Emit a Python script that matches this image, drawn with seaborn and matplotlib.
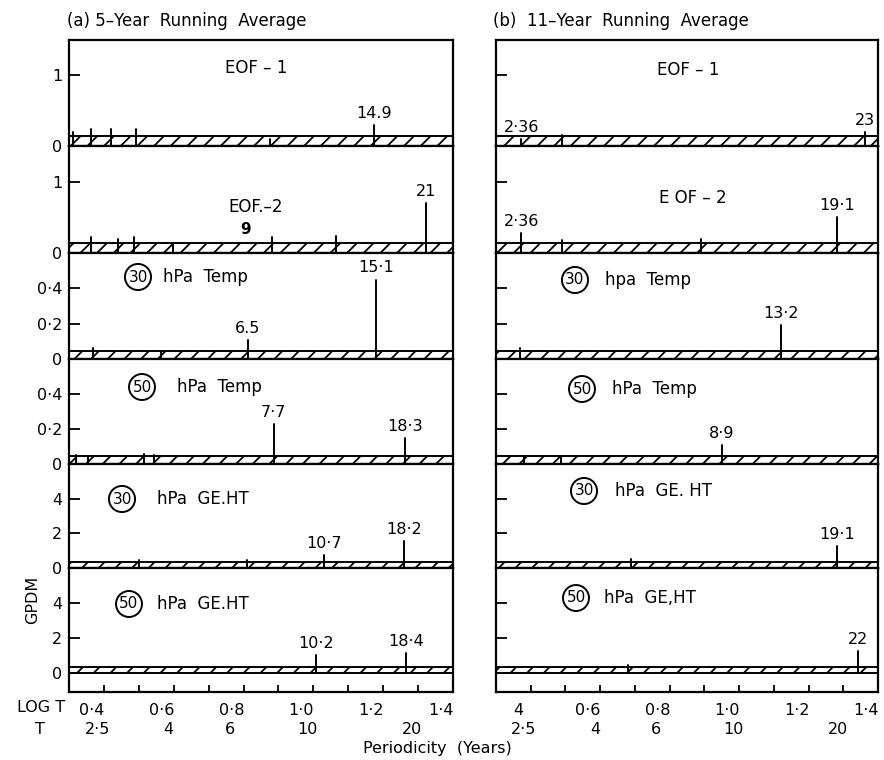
import numpy as np
import pandas as pd
import matplotlib
matplotlib.use("Agg")
import matplotlib.pyplot as plt
import seaborn as sns
from matplotlib.transforms import ScaledTranslation

# ---------------- spectral peaks: period (years), amplitude, label ----------------
# (a) 5-year running average
a_eof1_T = [2.05, 2.3, 2.63, 3.1, 7.5, 14.9]
a_eof1_amp = [0.20, 0.24, 0.24, 0.24, 0.10, 0.30]
a_eof1_lab = ["", "", "", "", "", "14.9"]

a_eof2_T = [2.3, 2.75, 3.06, 3.95, 7.6, 11.6, 21]
a_eof2_amp = [0.22, 0.19, 0.22, 0.12, 0.22, 0.24, 0.70]
a_eof2_lab = ["", "", "", "", "", "", "21"]

a_t30_T = [2.34, 3.66, 6.5, 15.1]
a_t30_amp = [0.065, 0.04, 0.11, 0.45]
a_t30_lab = ["", "", "6.5", "15·1"]

a_t50_T = [2.09, 2.26, 3.27, 3.49, 7.7, 18.3]
a_t50_amp = [0.05, 0.04, 0.06, 0.05, 0.23, 0.15]
a_t50_lab = ["", "", "", "", "7·7", "18·3"]

a_h30_T = [3.16, 6.47, 10.7, 18.2]
a_h30_amp = [0.45, 0.45, 0.74, 1.54]
a_h30_lab = ["", "", "10·7", "18·2"]

a_h50_T = [10.2, 18.4]
a_h50_amp = [1.03, 1.14]
a_h50_lab = ["10·2", "18·4"]

# (b) 11-year running average
b_eof1_T = [2.36, 3.1, 23]
b_eof1_amp = [0.10, 0.16, 0.20]
b_eof1_lab = ["2·36", "", "23"]

b_eof2_T = [2.36, 3.1, 7.76, 19.1]
b_eof2_amp = [0.28, 0.18, 0.20, 0.50]
b_eof2_lab = ["2·36", "", "", "19·1"]

b_t30_T = [2.34, 13.2]
b_t30_amp = [0.065, 0.19]
b_t30_lab = ["", "13·2"]

b_t50_T = [2.41, 3.08, 8.9]
b_t50_amp = [0.04, 0.04, 0.11]
b_t50_lab = ["", "", "8·9"]

b_h30_T = [4.89, 19.1]
b_h30_amp = [0.5, 1.26]
b_h30_lab = ["", "19·1"]

b_h50_T = [4.8, 22]
b_h50_amp = [0.45, 1.26]
b_h50_lab = ["", "22"]

# axis tick values and labels
logt_ticks = [0.4, 0.5, 0.6, 0.7, 0.8, 0.9, 1.0, 1.1, 1.2, 1.3, 1.4]
a_logt_labels = ["0·4", "", "0·6", "", "0·8", "", "1·0", "", "1·2", "", "1·4"]
b_logt_labels = ["4", "", "0·6", "", "0·8", "", "1·0", "", "1·2", "", "1·4"]
period_marks = [2.5, 4, 6, 10, 20]
period_labels = ["2·5", "4", "6", "10", "20"]

# ---------------- style ----------------
sns.set_theme(style="white")
plt.rcParams["font.family"] = ["DejaVu Sans"]
plt.rcParams["hatch.linewidth"] = 1.3
plt.rcParams["axes.linewidth"] = 1.5

W, H = 884, 760
fig = plt.figure(figsize=(W / 100, H / 100), dpi=100)
fig.patch.set_facecolor("white")


def fx(px):
    return px / W


def fy(py):
    return 1 - py / H


rows_px = [(40, 146), (146, 253), (253, 359), (359, 464), (464, 568), (568, 692)]
cols_px = [(69, 453), (496, 878)]

kinds = ["eof", "eof", "temp", "temp", "ght", "ght"]
kind_cfg = {
    "eof": dict(ylim=(0, 1.5), ticks=[0, 1], labels=["0", "1"], band=0.14),
    "temp": dict(ylim=(0, 0.6), ticks=[0, 0.2, 0.4], labels=["0", "0·2", "0·4"], band=0.045),
    "ght": dict(ylim=(0, 6), ticks=[0, 2, 4], labels=["0", "2", "4"], band=0.35),
}

series = [
    [(a_eof1_T, a_eof1_amp, a_eof1_lab), (a_eof2_T, a_eof2_amp, a_eof2_lab),
     (a_t30_T, a_t30_amp, a_t30_lab), (a_t50_T, a_t50_amp, a_t50_lab),
     (a_h30_T, a_h30_amp, a_h30_lab), (a_h50_T, a_h50_amp, a_h50_lab)],
    [(b_eof1_T, b_eof1_amp, b_eof1_lab), (b_eof2_T, b_eof2_amp, b_eof2_lab),
     (b_t30_T, b_t30_amp, b_t30_lab), (b_t50_T, b_t50_amp, b_t50_lab),
     (b_h30_T, b_h30_amp, b_h30_lab), (b_h50_T, b_h50_amp, b_h50_lab)],
]


def spike_frame(T, amp):
    recs = []
    for i, (t, a) in enumerate(zip(T, amp)):
        recs.append((i, np.log10(t), 0.0))
        recs.append((i, np.log10(t), a))
    return pd.DataFrame(recs, columns=["spike", "logT", "amp"])


FS = 11.5
bottom_axes = []
for c, (x0, x1) in enumerate(cols_px):
    for r, (top, bot) in enumerate(rows_px):
        ax = fig.add_axes([fx(x0), fy(bot), (x1 - x0) / W, (bot - top) / H])
        ax.set_facecolor("white")
        cfg = kind_cfg[kinds[r]]
        T, amp, lab = series[c][r]

        # significance band
        ax.axhspan(0, cfg["band"], facecolor="white", edgecolor="black",
                   hatch="//", lw=1.4, zorder=1)

        df = spike_frame(T, amp)
        sns.lineplot(data=df, x="logT", y="amp", units="spike", estimator=None,
                     color="black", lw=1.4, ax=ax, legend=False, zorder=3)
        for t, a, s in zip(T, amp, lab):
            if s:
                ax.annotate(s, xy=(np.log10(t), a), xytext=(0, 4),
                            textcoords="offset pixels", ha="center", va="bottom",
                            fontsize=FS, color="black")

        ax.set_xlim(0.3, 1.4)
        lo, hi = cfg["ylim"]
        if r == 5:
            lo = -1.08
        ax.set_ylim(lo, hi)
        ax.set_xlabel("")
        ax.set_ylabel("")

        ax.set_yticks(cfg["ticks"])
        if c == 0:
            ax.set_yticklabels(cfg["labels"], fontsize=FS)
        else:
            ax.set_yticklabels([])
        ax.tick_params(axis="y", direction="in", length=8, width=1.3, pad=5,
                       left=True, colors="black")
        for sp in ax.spines.values():
            sp.set_color("black")
            sp.set_linewidth(1.6)

        if r == 5:
            ax.set_xticks(logt_ticks)
            ax.set_xticklabels(a_logt_labels if c == 0 else b_logt_labels, fontsize=FS)
            ax.tick_params(axis="x", direction="in", length=5, width=1.3, pad=8,
                           bottom=True, colors="black")
            shift = ScaledTranslation(-12 / 100, 0, fig.dpi_scale_trans)
            for tl in ax.get_xticklabels():
                tl.set_transform(tl.get_transform() + shift)
            bottom_axes.append(ax)
        else:
            ax.set_xticks([])

# period row under each column
for ax in bottom_axes:
    trans = ax.get_xaxis_transform() + ScaledTranslation(-6 / 100, -38 / 100, fig.dpi_scale_trans)
    for t, s in zip(period_marks, period_labels):
        ax.text(np.log10(t), 0, s, transform=trans, ha="center", va="center",
                fontsize=FS, color="black")


def ftext(px, py, s, **kw):
    kw.setdefault("fontsize", FS + 0.5)
    kw.setdefault("color", "black")
    fig.text(fx(px), fy(py), s, **kw)


# column titles
ftext(67, 21, "(a) 5–Year  Running  Average", ha="left", va="center", fontsize=12)
ftext(493, 21, "(b)  11–Year  Running  Average", ha="left", va="center", fontsize=12)

# panel names
ftext(256, 68, "EOF – 1", ha="center", va="center")
ftext(256, 207, "EOF.–2", ha="center", va="center")
ftext(246, 230, "9", ha="center", va="center", fontsize=11, fontweight="bold")
ftext(688, 70, "EOF – 1", ha="center", va="center")
ftext(693, 198, "E OF – 2", ha="center", va="center")

circ = dict(boxstyle="circle,pad=0.22", fc="none", ec="black", lw=1.4)
circled = [
    (138, 277, "30", 163, "hPa  Temp"),
    (142, 387, "50", 177, "hPa  Temp"),
    (122, 499, "30", 157, "hPa  GE.HT"),
    (129, 604, "50", 157, "hPa  GE.HT"),
    (575, 280, "30", 605, "hpa  Temp"),
    (582, 389, "50", 612, "hPa  Temp"),
    (584, 491, "30", 615, "hPa  GE. HT"),
    (576, 598, "50", 604, "hPa  GE,HT"),
]
for cx, cy, num, tx, name in circled:
    ftext(cx, cy, num, ha="center", va="center", fontsize=11, bbox=circ)
    ftext(tx, cy, name, ha="left", va="center")

# axis captions
ftext(41, 708, "LOG T", ha="center", va="center", fontsize=FS)
ftext(40, 729, "T", ha="center", va="center", fontsize=FS)
ftext(437, 748, "Periodicity  (Years)", ha="center", va="center", fontsize=FS)
ftext(33, 600, "GPDM", ha="center", va="center", rotation=90, fontsize=FS)

fig.savefig("out.png", dpi=100, facecolor="white")
